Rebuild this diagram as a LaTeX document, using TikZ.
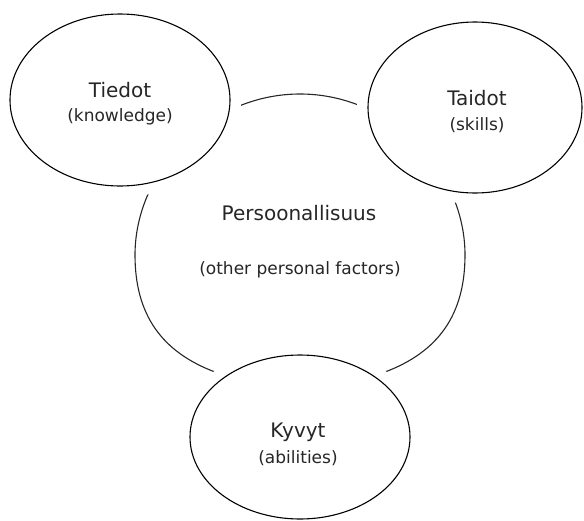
\documentclass[tikz,border=0pt]{standalone}
\usepackage{fontspec}
\setmainfont{DejaVu Sans}
\usetikzlibrary{shapes.geometric}
\tikzset{
  bubble/.style={ellipse, draw=black, fill=white, line width=1.1pt, inner sep=0pt,
    preaction={draw=white, line width=22pt}},
  bigtxt/.style={font=\fontsize{20}{24}\selectfont, text=black!85},
  smalltxt/.style={font=\fontsize{17}{20}\selectfont, text=black!85},
  outline/.style={draw=black!85, line width=1.1pt}
}
\begin{document}
\begin{tikzpicture}[x=1pt,y=-1pt]
\useasboundingbox (0,0) rectangle (584,520);
% central shape
\draw[outline] (300,94) .. controls (390,94) and (465,170) .. (465,255)
  .. controls (465,315) and (438,352) .. (385,372)
  .. controls (360,385) and (330,398) .. (300,398)
  .. controls (270,398) and (240,385) .. (215,372)
  .. controls (162,352) and (135,315) .. (135,255)
  .. controls (135,170) and (210,94) .. (300,94) -- cycle;
% ellipses
\node[bubble, minimum width=220pt, minimum height=172pt] (tiedot) at (120,100) {};
\node[bubble, minimum width=214pt, minimum height=171pt] (taidot) at (475,107.5) {};
\node[bubble, minimum width=220pt, minimum height=164pt] (kyvyt) at (300,437) {};
% texts
\node[bigtxt] (t1) at (120,90) {Tiedot};
\node[smalltxt] (t2) at (120,117) {(knowledge)};
\node[bigtxt] (s1) at (477,98) {Taidot};
\node[smalltxt] (s2) at (477,125) {(skills)};
\node[bigtxt] (k1) at (298,432) {Kyvyt};
\node[smalltxt] (k2) at (298,458) {(abilities)};
\node[bigtxt] (p1) at (299,213) {Persoonallisuus};
\node[smalltxt] (p2) at (300,270) {(other personal factors)};
\end{tikzpicture}
\end{document}
